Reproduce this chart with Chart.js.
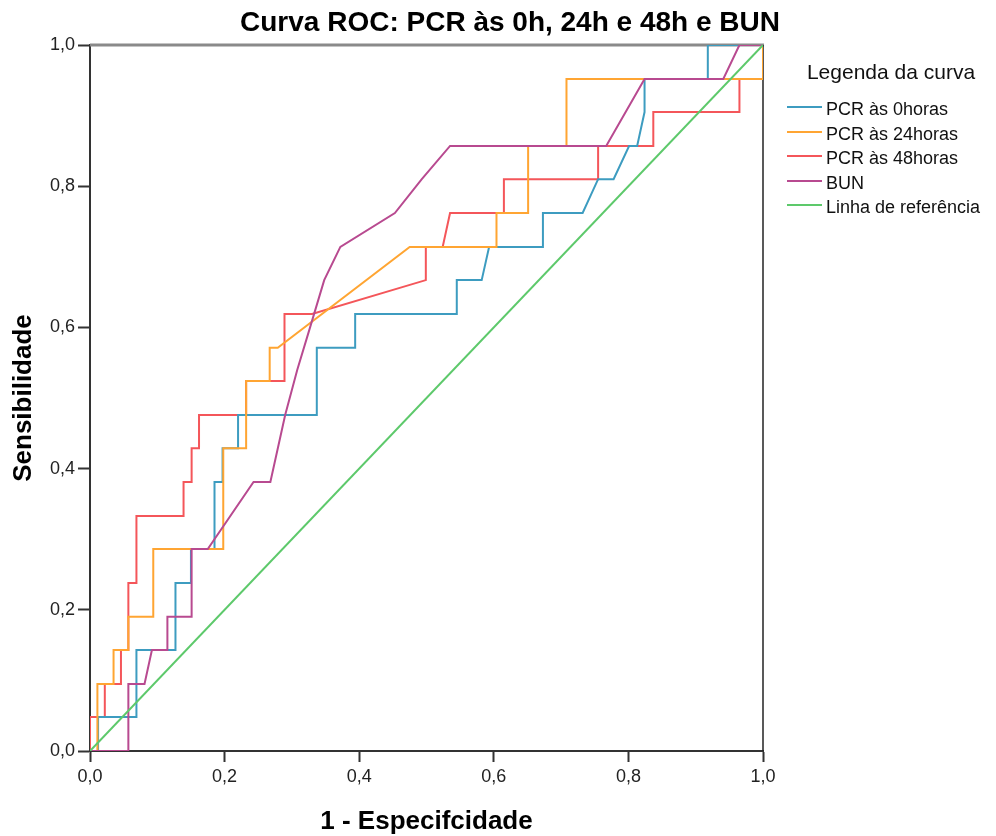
<!DOCTYPE html>
<html>
<head>
<meta charset="utf-8">
<script src="https://cdn.jsdelivr.net/npm/chart.js@4.4.1/dist/chart.umd.min.js"></script>
<style>
  body { margin: 0; background: #fff; font-family: "Liberation Sans", Arial, sans-serif; }
  #wrap { position: relative; width: 996px; height: 836px; }
  #title { position: absolute; top: 8px; left: 510px; transform: translateX(-50%);
           font-weight: bold; font-size: 28px; line-height: 28px; white-space: nowrap; color: #000; }
  #legTitle { position: absolute; top: 61px; left: 891px; transform: translateX(-50%);
              font-size: 21px; line-height: 21px; white-space: nowrap; color: #111; }
  .leg { position: absolute; left: 787px; font-size: 18px; line-height: 18px; white-space: nowrap; color: #111; }
  .leg span { display: inline-block; width: 35px; height: 2px; margin-right: 4px; vertical-align: top; position: relative; top: 6px; }
</style>
</head>
<body>
<div id="wrap">
  <canvas id="roc" width="996" height="836"></canvas>
  <div id="title">Curva ROC: PCR às 0h, 24h e 48h e BUN</div>
  <div id="legTitle">Legenda da curva</div>
</div>
<script>
// ROC curve points (1 - especificidade, sensibilidade)
var pcr0X = [0, 0.012, 0.012, 0.069, 0.069, 0.127, 0.127, 0.150, 0.150, 0.185, 0.185, 0.197, 0.197, 0.220, 0.220, 0.337, 0.337, 0.394, 0.394, 0.545, 0.545, 0.582, 0.593, 0.673, 0.673, 0.732, 0.755, 0.778, 0.801, 0.813, 0.824, 0.824, 0.918, 0.918, 1];
var pcr0Y = [0, 0, 0.048, 0.048, 0.143, 0.143, 0.238, 0.238, 0.286, 0.286, 0.381, 0.381, 0.429, 0.429, 0.476, 0.476, 0.571, 0.571, 0.619, 0.619, 0.667, 0.667, 0.714, 0.714, 0.762, 0.762, 0.810, 0.810, 0.857, 0.857, 0.905, 0.952, 0.952, 1, 1];

var pcr24X = [0, 0.011, 0.011, 0.035, 0.035, 0.057, 0.057, 0.094, 0.094, 0.198, 0.198, 0.232, 0.232, 0.267, 0.267, 0.279, 0.475, 0.604, 0.604, 0.651, 0.651, 0.708, 0.708, 1, 1];
var pcr24Y = [0, 0, 0.095, 0.095, 0.143, 0.143, 0.190, 0.190, 0.286, 0.286, 0.429, 0.429, 0.524, 0.524, 0.571, 0.571, 0.714, 0.714, 0.762, 0.762, 0.857, 0.857, 0.952, 0.952, 1];

var pcr48X = [0, 0, 0.022, 0.022, 0.046, 0.046, 0.057, 0.057, 0.069, 0.069, 0.139, 0.139, 0.151, 0.151, 0.162, 0.162, 0.232, 0.232, 0.289, 0.289, 0.330, 0.499, 0.499, 0.524, 0.535, 0.615, 0.615, 0.755, 0.755, 0.837, 0.837, 0.965, 0.965, 1, 1];
var pcr48Y = [0, 0.048, 0.048, 0.095, 0.095, 0.143, 0.143, 0.238, 0.238, 0.333, 0.333, 0.381, 0.381, 0.429, 0.429, 0.476, 0.476, 0.524, 0.524, 0.619, 0.619, 0.667, 0.714, 0.714, 0.762, 0.762, 0.810, 0.810, 0.857, 0.857, 0.905, 0.905, 0.952, 0.952, 1];

var bunX = [0, 0.057, 0.057, 0.081, 0.092, 0.115, 0.115, 0.151, 0.151, 0.175, 0.243, 0.268, 0.290, 0.308, 0.327, 0.348, 0.372, 0.453, 0.493, 0.535, 0.767, 0.824, 0.941, 0.965, 1];
var bunY = [0, 0, 0.095, 0.095, 0.143, 0.143, 0.190, 0.190, 0.286, 0.286, 0.381, 0.381, 0.476, 0.540, 0.600, 0.667, 0.714, 0.762, 0.810, 0.857, 0.857, 0.952, 0.952, 1, 1];

var refX = [0, 1];
var refY = [0, 1];

var seriesNames = ['PCR às 0horas', 'PCR às 24horas', 'PCR às 48horas', 'BUN', 'Linha de referência'];
var seriesColors = ['#3d9cc0', '#ffa532', '#f4565a', '#b84a90', '#5dc96b'];
var tickValues = [0, 0.2, 0.4, 0.6, 0.8, 1.0];

function pts(xs, ys) {
    return xs.map(function (x, i) { return { x: x, y: ys[i] }; });
}

var seriesData = [pts(pcr0X, pcr0Y), pts(pcr24X, pcr24Y), pts(pcr48X, pcr48Y), pts(bunX, bunY), pts(refX, refY)];
// lower order = drawn on top
var drawOrder = [3, 2, 4, 1, 0];

var FONT = '"Liberation Sans", Arial, sans-serif';

// grey top edge and black right edge of the plot frame
var framePlugin = {
    id: 'frame',
    beforeDatasetsDraw: function (chart) {
        var ctx = chart.ctx, a = chart.chartArea;
        ctx.save();
        ctx.strokeStyle = '#8a8a8a';
        ctx.lineWidth = 3;
        ctx.beginPath(); ctx.moveTo(a.left, a.top); ctx.lineTo(a.right + 1, a.top); ctx.stroke();
        ctx.strokeStyle = '#222';
        ctx.lineWidth = 1.5;
        ctx.beginPath(); ctx.moveTo(a.right, a.top); ctx.lineTo(a.right, a.bottom); ctx.stroke();
        ctx.restore();
    }
};

function fmt(v) { return v.toFixed(1).replace('.', ','); }

var ctx = document.getElementById('roc').getContext('2d');
var chart = new Chart(ctx, {
    type: 'scatter',
    data: {
        datasets: seriesData.map(function (d, i) {
            return {
                label: seriesNames[i],
                data: d,
                showLine: true,
                borderColor: seriesColors[i],
                borderWidth: 2,
                pointRadius: 0,
                tension: 0,
                fill: false,
                order: drawOrder[i]
            };
        })
    },
    options: {
        responsive: false,
        animation: false,
        devicePixelRatio: 1,
        events: [],
        layout: { padding: { top: 45, right: 233, bottom: 0, left: 0 } },
        plugins: { legend: { display: false }, title: { display: false }, tooltip: { enabled: false } },
        scales: {
            x: {
                type: 'linear', min: 0, max: 1,
                afterFit: function (s) { s.height = 85; },
                afterBuildTicks: function (s) { s.ticks = tickValues.map(function (v) { return { value: v }; }); },
                ticks: { callback: fmt, font: { family: FONT, size: 18 }, color: '#222', padding: 4, maxRotation: 0 },
                grid: { drawOnChartArea: false, drawTicks: true, tickLength: 11, tickColor: '#333', tickWidth: 2 },
                border: { display: true, color: '#333', width: 2 },
                title: { display: true, text: '1 - Especifcidade', color: '#000',
                         font: { family: FONT, size: 26, weight: 'bold', lineHeight: 1.1 }, padding: { top: 0, bottom: 0 } }
            },
            y: {
                type: 'linear', min: 0, max: 1,
                afterFit: function (s) { s.width = 90; },
                afterBuildTicks: function (s) { s.ticks = tickValues.map(function (v) { return { value: v }; }); },
                ticks: { callback: fmt, font: { family: FONT, size: 18 }, color: '#222', padding: 3 },
                grid: { drawOnChartArea: false, drawTicks: true, tickLength: 12, tickColor: '#333', tickWidth: 2 },
                border: { display: true, color: '#333', width: 2 },
                title: { display: true, text: 'Sensibilidade', color: '#000',
                         font: { family: FONT, size: 26, weight: 'bold', lineHeight: 1.1 }, padding: { top: 10, bottom: 0 } }
            }
        }
    },
    plugins: [framePlugin]
});

// legend
var wrap = document.getElementById('wrap');
seriesNames.forEach(function (name, i) {
    var row = document.createElement('div');
    row.className = 'leg';
    row.style.top = (100 + i * 24.5) + 'px';
    var sw = document.createElement('span');
    sw.style.background = seriesColors[i];
    row.appendChild(sw);
    row.appendChild(document.createTextNode(name));
    wrap.appendChild(row);
});
</script>
</body>
</html>
